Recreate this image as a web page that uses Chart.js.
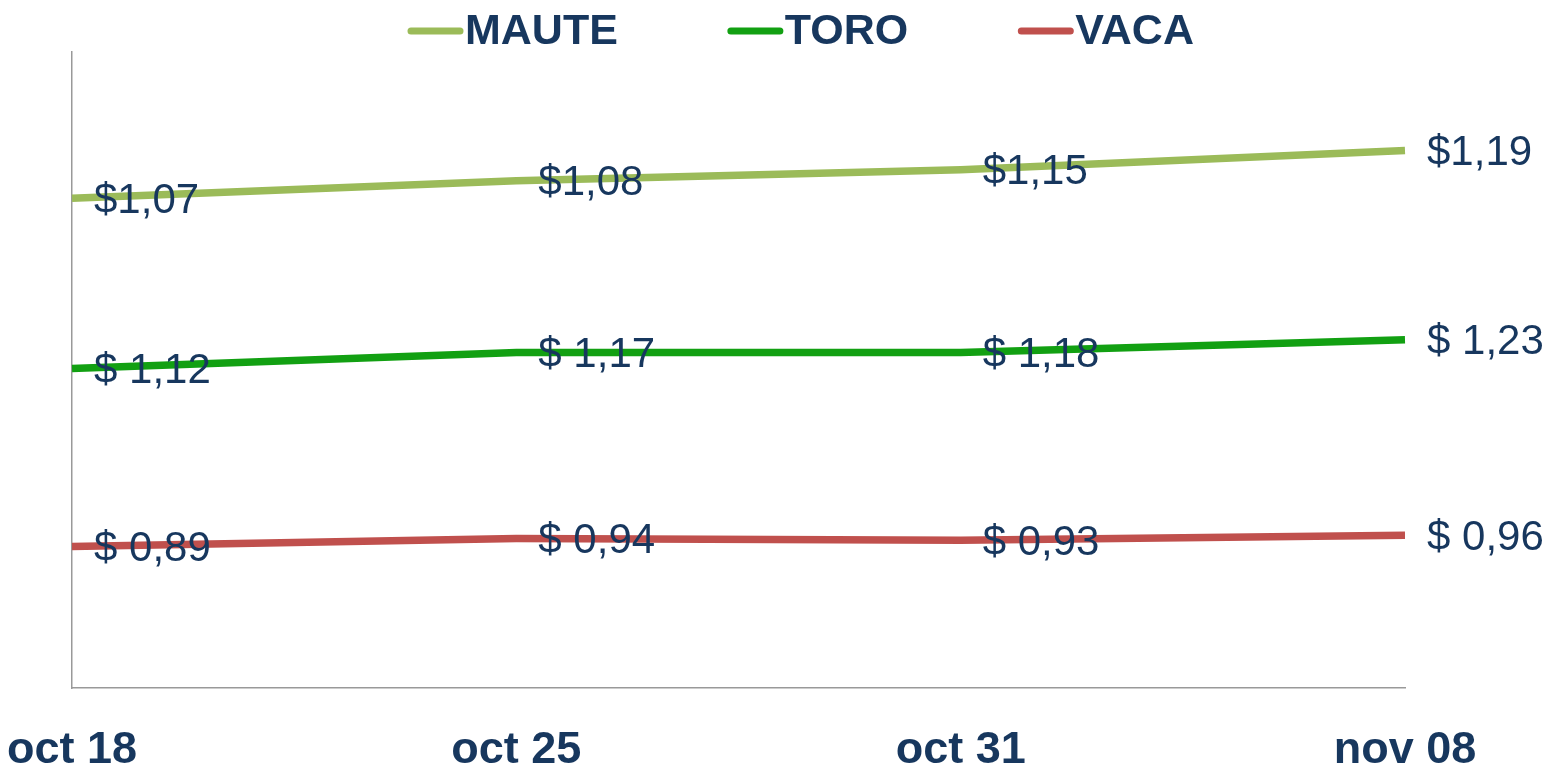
<!DOCTYPE html>
<html>
<head>
<meta charset="utf-8">
<script src="https://cdn.jsdelivr.net/npm/chart.js@4.4.1/dist/chart.umd.min.js"></script>
<style>
  html, body { margin: 0; padding: 0; background: #fff; }
  #wrap { width: 1550px; height: 769px; }
</style>
</head>
<body>
<div id="wrap"><canvas id="priceChart" width="1550" height="769"></canvas></div>
<script>
// fechas del eje x
const dates = ['oct 18', 'oct 25', 'oct 31', 'nov 08'];

// precios por categoria (el grafico va apilado)
const vaca = [0.89, 0.94, 0.93, 0.96];
const toro = [1.12, 1.17, 1.18, 1.23];
const maute = [1.07, 1.08, 1.15, 1.19];

const seriesNames = ['VACA', 'TORO', 'MAUTE'];
const seriesColors = ['#C0504D', '#12A012', '#9BBB59'];
const labelPrefix = ['$ ', '$ ', '$'];

const navy = '#17375E';
const fontFamily = '"Liberation Sans", Arial, sans-serif';

const fmt = (v, i) => labelPrefix[i] + v.toFixed(2).replace('.', ',');

// etiquetas de valor a la derecha de cada punto
const valueLabels = {
  id: 'valueLabels',
  afterDatasetsDraw(chart) {
    const ctx = chart.ctx;
    ctx.save();
    ctx.font = '42px ' + fontFamily;
    ctx.fillStyle = navy;
    ctx.textAlign = 'left';
    ctx.textBaseline = 'middle';
    chart.data.datasets.forEach((ds, i) => {
      const meta = chart.getDatasetMeta(i);
      meta.data.forEach((pt, j) => {
        ctx.fillText(fmt(ds.data[j], i), pt.x + 22, pt.y + 3);
      });
    });
    ctx.restore();
  }
};

// leyenda de linea con el texto pegado a la muestra
const lineLegend = {
  id: 'lineLegend',
  afterDraw(chart) {
    const ctx = chart.ctx;
    ctx.save();
    ctx.font = 'bold 43px ' + fontFamily;
    ctx.textBaseline = 'middle';
    let x = 408;
    const y = 31;
    for (let i = seriesNames.length - 1; i >= 0; i--) {
      ctx.strokeStyle = seriesColors[i];
      ctx.lineWidth = 7;
      ctx.lineCap = 'round';
      ctx.beginPath();
      ctx.moveTo(x + 3, y);
      ctx.lineTo(x + 52, y);
      ctx.stroke();
      ctx.fillStyle = navy;
      ctx.fillText(seriesNames[i], x + 57, y + 1);
      x += 57 + ctx.measureText(seriesNames[i]).width + 110;
    }
    ctx.restore();
  }
};

const ctx = document.getElementById('priceChart').getContext('2d');
new Chart(ctx, {
  type: 'line',
  data: {
    labels: dates,
    datasets: [vaca, toro, maute].map((vals, i) => ({
      label: seriesNames[i],
      data: vals,
      borderColor: seriesColors[i],
      backgroundColor: seriesColors[i],
      borderWidth: 7.5,
      pointRadius: 0,
      tension: 0,
      fill: false
    }))
  },
  options: {
    responsive: false,
    animation: false,
    layout: { padding: { top: 52, left: 72, right: 145, bottom: 0 } },
    plugins: {
      legend: { display: false },
      tooltip: { enabled: false }
    },
    scales: {
      x: {
        offset: false,
        grid: { display: false, drawTicks: false },
        border: { display: true, color: '#999999', width: 1.5 },
        ticks: {
          color: navy,
          padding: 0,
          maxRotation: 0,
          font: { family: fontFamily, size: 45, weight: 'bold', lineHeight: 2.8 }
        },
        afterFit(scale) { scale.height = 81; }
      },
      y: {
        stacked: true,
        min: 0,
        max: 4,
        grid: { display: false, drawTicks: false },
        border: { display: true, color: '#999999', width: 1.5 },
        ticks: { display: false }
      }
    }
  },
  plugins: [valueLabels, lineLegend]
});
</script>
</body>
</html>
